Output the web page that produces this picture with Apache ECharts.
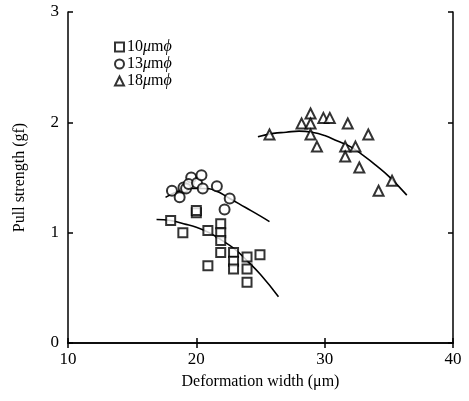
<!DOCTYPE html>
<html><head><meta charset="utf-8">
<script src="https://cdn.jsdelivr.net/npm/echarts@6/dist/echarts.min.js"></script>
<style>html,body{margin:0;padding:0;background:#fff}#c{width:469px;height:401px}</style>
</head><body><div id="c"></div>
<script>
const seriesNames = ['10μmϕ', '13μmϕ', '18μmϕ'];
const xTicks = [10, 20, 30, 40];
const yTicks = [0, 1, 2, 3];
const sq10 = [[18.0,1.11],[18.95,1.00],[20.0,1.18],[20.0,1.20],[20.9,1.02],[21.9,1.08],[21.9,1.00],[21.9,0.93],[21.9,0.82],[20.9,0.70],[22.9,0.82],[22.9,0.74],[22.9,0.67],[23.95,0.78],[23.95,0.67],[23.95,0.55],[24.96,0.80]];
const ci13 = [[18.1,1.38],[18.7,1.32],[19.0,1.41],[19.2,1.40],[19.6,1.50],[19.4,1.44],[20.05,1.45],[20.4,1.52],[20.5,1.40],[21.6,1.42],[22.6,1.31],[22.2,1.21]];
const tr18 = [[25.7,1.89],[28.9,2.08],[28.2,1.99],[28.9,1.99],[28.9,1.89],[29.4,1.78],[29.9,2.04],[30.4,2.04],[31.8,1.99],[33.4,1.89],[31.6,1.78],[32.4,1.78],[31.6,1.69],[32.7,1.59],[35.25,1.47],[34.2,1.38]];
const fit10 = [[16.9,1.12],[18,1.11],[19,1.08],[20,1.05],[21,1.00],[22,0.93],[23,0.85],[24,0.74],[25,0.62],[26.4,0.42]];
const fit13 = [[17.6,1.32],[18.5,1.37],[19.5,1.40],[20.5,1.40],[21.5,1.38],[22.6,1.31],[23.8,1.23],[25,1.15],[25.7,1.10]];
const fit18 = [[24.8,1.87],[26,1.90],[27,1.91],[28,1.92],[29,1.91],[30,1.88],[31,1.83],[32,1.78],[33,1.70],[34,1.61],[35,1.51],[36.4,1.34]];

const font = 'Liberation Serif';
const chart = echarts.init(document.getElementById('c'));
const axisCommon = {
  axisLine: {show: true, lineStyle: {color: '#000', width: 1.5}},
  axisTick: {show: true, inside: true, length: 5, lineStyle: {color: '#000', width: 1.5}},
  splitLine: {show: false}
};
const markStyle = {color: '#fff', borderColor: '#000', borderWidth: 2};
const lineStyle = {color: '#000', width: 1.6};
chart.setOption({
  animation: false,
  backgroundColor: '#fff',
  grid: {left: 68, right: 16, top: 12, bottom: 58},
  legend: {
    data: seriesNames,
    orient: 'vertical', left: 109, top: 34,
    itemWidth: 9, itemHeight: 9, itemGap: 1,
    textStyle: {fontFamily: font, fontSize: 16, color: '#000', padding: [0, 0, 0, -2],
      rich: {i: {fontFamily: font, fontSize: 16, fontStyle: 'italic', color: '#000'}}},
    formatter: n => n.replace('μ', '{i|μ}').replace('ϕ', '{i|ϕ}')
  },
  xAxis: [
    Object.assign({type: 'value', min: xTicks[0], max: xTicks[xTicks.length-1], interval: 10,
      name: 'Deformation width (μm)', nameLocation: 'middle', nameGap: 31,
      nameTextStyle: {fontFamily: font, fontSize: 16, color: '#000'},
      axisLabel: {fontFamily: font, fontSize: 17, color: '#000', margin: 8}}, axisCommon),
    Object.assign({type: 'value', position: 'top', min: 10, max: 40, interval: 10,
      axisLabel: {show: false}}, axisCommon)
  ],
  yAxis: [
    Object.assign({type: 'value', min: yTicks[0], max: yTicks[yTicks.length-1], interval: 1,
      name: 'Pull strength (gf)', nameLocation: 'middle', nameGap: 40,
      nameTextStyle: {fontFamily: font, fontSize: 16, color: '#000'},
      axisLabel: {fontFamily: font, fontSize: 17, color: '#000', margin: 9}}, axisCommon),
    Object.assign({type: 'value', position: 'right', min: 0, max: 3, interval: 1,
      axisLabel: {show: false}}, axisCommon)
  ],
  series: [
    {name: seriesNames[0], type: 'scatter', data: sq10, symbol: 'rect', symbolSize: 9, itemStyle: markStyle},
    {name: seriesNames[1], type: 'scatter', data: ci13, symbol: 'circle', symbolSize: 10, itemStyle: markStyle},
    {name: seriesNames[2], type: 'scatter', data: tr18, symbol: 'triangle', symbolSize: 10, itemStyle: markStyle},
    {type: 'line', data: fit10, smooth: true, showSymbol: false, lineStyle: lineStyle, z: 1},
    {type: 'line', data: fit13, smooth: true, showSymbol: false, lineStyle: lineStyle, z: 1},
    {type: 'line', data: fit18, smooth: true, showSymbol: false, lineStyle: lineStyle, z: 1}
  ]
});
</script></body></html>
